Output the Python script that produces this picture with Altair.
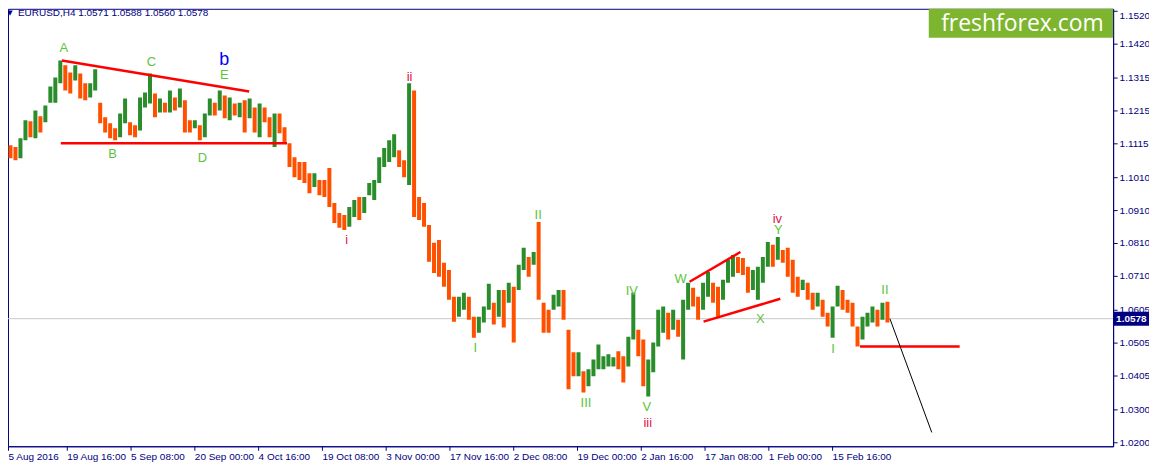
import altair as alt
import pandas as pd

# ---------------- data ----------------
symbol = "EURUSD,H4"
last_ohlc = [1.0571, 1.0588, 1.0560, 1.0578]

first_open = 1.1130
H4_PER_BAR = 5  # each drawn bar aggregates 5 H4 candles

highs = [1.1161,1.1109,1.1103,1.1130,1.1185,1.1182,1.1215,1.1197,1.1230,1.1288,
         1.1316,1.1368,1.1353,1.1331,1.1353,1.1328,1.1298,1.1298,1.1341,1.1239,
         1.1194,1.1176,1.1161,1.1206,1.1252,1.1179,1.1170,1.1255,1.1270,1.1328,
         1.1267,1.1252,1.1239,1.1276,1.1255,1.1282,1.1246,1.1185,1.1185,1.1170,
         1.1206,1.1252,1.1239,1.1276,1.1261,1.1255,1.1236,1.1239,1.1246,1.1252,
         1.1224,1.1236,1.1224,1.1194,1.1206,1.1206,1.1164,1.1115,1.1072,1.1057,
         1.1057,1.1023,1.1023,1.1002,1.1002,1.1039,1.0932,1.0901,1.0895,1.0920,
         1.0941,1.0950,1.0950,1.0993,1.1002,1.1072,1.1100,1.1124,1.1142,1.1093,
         1.1063,1.1298,1.1276,1.0950,1.0932,1.0865,1.0810,1.0819,1.0749,1.0727,
         1.0645,1.0645,1.0657,1.0645,1.0584,1.0584,1.0615,1.0685,1.0627,1.0666,
         1.0666,1.0688,1.0676,1.0743,1.0795,1.0767,1.0782,1.0874,1.0627,1.0605,
         1.0651,1.0666,1.0666,1.0544,1.0475,1.0475,1.0417,1.0423,1.0453,1.0499,
         1.0463,1.0469,1.0460,1.0478,1.0463,1.0523,1.0657,1.0544,1.0514,1.0453,
         1.0505,1.0605,1.0615,1.0596,1.0605,1.0575,1.0636,1.0688,1.0673,1.0645,
         1.0688,1.0721,1.0688,1.0676,1.0697,1.0758,1.0773,1.0767,1.0764,1.0737,
         1.0727,1.0737,1.0767,1.0813,1.0804,1.0828,1.0788,1.0795,1.0758,1.0706,
         1.0697,1.0688,1.0657,1.0657,1.0636,1.0596,1.0615,1.0679,1.0666,1.0636,
         1.0627,1.0554,1.0584,1.0596,1.0615,1.0605,1.0627,1.0630]

lows = [1.1063,1.1069,1.1063,1.1069,1.1124,1.1133,1.1130,1.1148,1.1179,1.1239,
        1.1239,1.1298,1.1276,1.1267,1.1307,1.1252,1.1246,1.1255,1.1276,1.1176,
        1.1148,1.1130,1.1124,1.1133,1.1176,1.1139,1.1133,1.1154,1.1224,1.1236,
        1.1194,1.1209,1.1209,1.1209,1.1215,1.1224,1.1148,1.1148,1.1161,1.1124,
        1.1133,1.1200,1.1200,1.1215,1.1191,1.1185,1.1200,1.1194,1.1148,1.1191,
        1.1148,1.1133,1.1179,1.1133,1.1103,1.1145,1.1115,1.1042,1.1011,1.1002,
        1.0993,1.0962,1.0981,1.0956,1.0950,1.0920,1.0871,1.0856,1.0849,1.0859,
        1.0889,1.0880,1.0901,1.0956,1.0941,1.0993,1.1042,1.1057,1.1072,1.1042,
        1.1011,1.0987,1.0889,1.0880,1.0859,1.0752,1.0718,1.0706,1.0676,1.0636,
        1.0569,1.0584,1.0605,1.0575,1.0520,1.0535,1.0566,1.0605,1.0560,1.0584,
        1.0551,1.0627,1.0505,1.0666,1.0727,1.0706,1.0743,1.0636,1.0535,1.0535,
        1.0605,1.0615,1.0575,1.0362,1.0402,1.0402,1.0352,1.0371,1.0402,1.0423,
        1.0423,1.0432,1.0432,1.0423,1.0383,1.0432,1.0514,1.0463,1.0371,1.0340,
        1.0414,1.0493,1.0535,1.0514,1.0544,1.0523,1.0453,1.0605,1.0615,1.0575,
        1.0605,1.0645,1.0627,1.0584,1.0636,1.0688,1.0706,1.0718,1.0712,1.0657,
        1.0666,1.0636,1.0688,1.0737,1.0737,1.0758,1.0749,1.0706,1.0657,1.0645,
        1.0666,1.0636,1.0605,1.0615,1.0584,1.0554,1.0520,1.0615,1.0605,1.0596,
        1.0554,1.0493,1.0514,1.0554,1.0566,1.0554,1.0575,1.0566]

closes = [1.1093,1.1087,1.1078,1.1118,1.1170,1.1139,1.1191,1.1161,1.1221,1.1270,
          1.1301,1.1344,1.1313,1.1292,1.1331,1.1270,1.1261,1.1282,1.1292,1.1191,
          1.1170,1.1148,1.1145,1.1191,1.1200,1.1161,1.1154,1.1246,1.1252,1.1270,
          1.1230,1.1236,1.1221,1.1246,1.1236,1.1246,1.1170,1.1164,1.1176,1.1161,
          1.1200,1.1230,1.1221,1.1255,1.1215,1.1221,1.1215,1.1230,1.1209,1.1221,
          1.1191,1.1215,1.1200,1.1154,1.1191,1.1170,1.1130,1.1063,1.1039,1.1032,
          1.1008,1.0993,1.1002,1.0978,1.0971,1.0941,1.0895,1.0880,1.0874,1.0904,
          1.0917,1.0910,1.0941,1.0971,1.0987,1.1057,1.1087,1.1093,1.1109,1.1057,
          1.1032,1.1215,1.0926,1.0910,1.0874,1.0773,1.0758,1.0743,1.0712,1.0651,
          1.0605,1.0621,1.0636,1.0621,1.0544,1.0569,1.0590,1.0636,1.0605,1.0642,
          1.0621,1.0666,1.0636,1.0727,1.0764,1.0721,1.0764,1.0666,1.0590,1.0575,
          1.0630,1.0645,1.0599,1.0453,1.0438,1.0453,1.0377,1.0408,1.0438,1.0447,
          1.0447,1.0453,1.0453,1.0438,1.0408,1.0499,1.0544,1.0484,1.0408,1.0429,
          1.0490,1.0575,1.0581,1.0560,1.0575,1.0544,1.0605,1.0651,1.0636,1.0599,
          1.0666,1.0697,1.0651,1.0636,1.0682,1.0743,1.0752,1.0743,1.0734,1.0682,
          1.0697,1.0712,1.0752,1.0795,1.0788,1.0804,1.0767,1.0743,1.0697,1.0682,
          1.0682,1.0660,1.0627,1.0642,1.0605,1.0575,1.0599,1.0660,1.0621,1.0612,
          1.0560,1.0529,1.0569,1.0581,1.0596,1.0581,1.0599,1.0578]

# x axis: H4 candle number since 5 Aug 2016 00:00, one label every 64 candles
time_labels = ["5 Aug 2016", "19 Aug 16:00", "5 Sep 08:00", "20 Sep 00:00",
               "4 Oct 16:00", "19 Oct 08:00", "3 Nov 00:00", "17 Nov 16:00",
               "2 Dec 08:00", "19 Dec 00:00", "2 Jan 16:00", "17 Jan 08:00",
               "1 Feb 00:00", "15 Feb 16:00"]
time_ticks = [0, 64, 128, 192, 256, 320, 384, 448, 512, 576, 640, 704, 768, 832]

price_ticks = [1.1520, 1.1420, 1.1315, 1.1215, 1.1115, 1.1010, 1.0910, 1.0810,
               1.0710, 1.0605, 1.0505, 1.0405, 1.0300, 1.0200]

# wave labels (candle number, price, text, degree)
wave_text = ["A", "B", "C", "D", "E", "b", "i", "ii", "I", "II", "III", "IV",
             "V", "iii", "W", "X", "Y", "iv", "I", "II"]
wave_idx = [61, 110, 149, 200, 222, 222, 345, 408, 474, 537, 585, 631,
            646, 647, 680, 760, 778, 777, 833, 885]
wave_price = [1.1407, 1.1081, 1.1362, 1.1069, 1.1325, 1.1368, 1.0819, 1.1316,
              1.0487, 1.0895, 1.0319, 1.0663, 1.0307, 1.0258, 1.0700, 1.0578,
              1.0849, 1.0883, 1.0484, 1.0666]
wave_degree = ["minor", "minor", "minor", "minor", "minor", "inter", "minute",
               "minute", "minor", "minor", "minor", "minor", "minor", "minute",
               "minor", "minor", "minor", "minute", "minor", "minor"]

# drawn lines (start/end candle number and price)
seg_idx0 = [59, 58, 689, 703, 860, 890]
seg_idx1 = [247, 285, 740, 780, 960, 932]
seg_p0 = [1.1368, 1.1115, 1.0691, 1.0569, 1.0493, 1.0578]
seg_p1 = [1.1273, 1.1115, 1.0782, 1.0639, 1.0493, 1.0230]
seg_kind = ["trend", "trend", "trend", "trend", "trend", "forecast"]

# ---------------- styles ----------------
NAVY = "#000080"
FONT = "Liberation Sans"
DIR_COLOR = {"up": "#2A8C2A", "down": "#FF5000"}
DEG_COLOR = {"minor": "#5CC43C", "minute": "#E0144C", "inter": "#0000FF"}
DEG_SIZE = {"minor": 13, "minute": 13, "inter": 18}
SEG_COLOR = {"trend": "#FF0000", "forecast": "#000000"}
SEG_WIDTH = {"trend": 2.5, "forecast": 1}
X_FIRST, X_LAST = 5, 1114   # candle numbers visible at the left / right edge

# ---------------- frames ----------------
opens = [first_open] + closes[:-1]
bars = pd.DataFrame({
    "idx": [k * H4_PER_BAR + H4_PER_BAR / 2 for k in range(len(closes))],
    "open": opens, "high": highs, "low": lows, "close": closes,
})
bars["col"] = [DIR_COLOR["up"] if c >= o else DIR_COLOR["down"]
               for o, c in zip(opens, closes)]

waves = pd.DataFrame({"idx": wave_idx, "price": wave_price, "text": wave_text})
waves["col"] = [DEG_COLOR[d] for d in wave_degree]
waves["fs"] = [DEG_SIZE[d] for d in wave_degree]

segs = pd.DataFrame({"x0": seg_idx0, "x1": seg_idx1, "p0": seg_p0, "p1": seg_p1})
segs["col"] = [SEG_COLOR[k] for k in seg_kind]
segs["sw"] = [SEG_WIDTH[k] for k in seg_kind]

one = pd.DataFrame({"a": [0]})

label_array = "[" + ",".join("'" + t + "'" for t in time_labels) + "]"
# the first tick sits just left of the visible window; show it at the edge
shown_ticks = [max(t, X_FIRST) for t in time_ticks]

xscale = alt.Scale(domain=[X_FIRST, X_LAST], nice=False, zero=False)
yscale = alt.Scale(domain=[1.01877, 1.15261], nice=False, zero=False)

xaxis = alt.Axis(values=shown_ticks, labelExpr=label_array + "[round(datum.value/64)]",
                 labelAlign="left", labelColor=NAVY, tickColor=NAVY, domainColor=NAVY,
                 tickSize=4, labelPadding=1, labelFont=FONT, labelFontSize=10,
                 grid=False, title=None, labelOverlap=False, labelFlush=False,
                 labelBound=False)
yaxis = alt.Axis(orient="right", values=price_ticks, format=".4f", labelColor=NAVY,
                 tickColor=NAVY, domainColor=NAVY, tickSize=4, labelPadding=2,
                 labelFont=FONT, labelFontSize=10, grid=False, title=None,
                 labelOverlap=False, labelFlush=False, labelBound=False,
                 labelBaseline={"condition": {"test": "datum.value > 1.15", "value": "top"},
                                "value": "middle"})

price_line = alt.Chart(one).mark_rule(color="#C8C8C8", strokeWidth=1).encode(
    x=alt.X(datum=X_FIRST, scale=xscale, axis=xaxis), x2=alt.datum(X_LAST),
    y=alt.Y(datum=last_ohlc[3], scale=yscale, axis=yaxis))

candles = alt.Chart(bars).mark_rule(strokeWidth=4, strokeCap="butt", clip=True).encode(
    x=alt.X("idx:Q", scale=xscale, axis=xaxis),
    y=alt.Y("low:Q", scale=yscale, axis=yaxis),
    y2="high:Q",
    color=alt.Color("col:N", scale=None),
)

lines = alt.Chart(segs).mark_rule(strokeCap="butt").encode(
    x=alt.X("x0:Q", scale=xscale, axis=xaxis), x2="x1:Q",
    y=alt.Y("p0:Q", scale=yscale, axis=yaxis), y2="p1:Q",
    color=alt.Color("col:N", scale=None),
    strokeWidth=alt.StrokeWidth("sw:Q", scale=None),
)

labels = alt.Chart(waves).mark_text(font=FONT, baseline="middle", align="center").encode(
    x=alt.X("idx:Q", scale=xscale, axis=xaxis),
    y=alt.Y("price:Q", scale=yscale, axis=yaxis),
    text="text:N",
    color=alt.Color("col:N", scale=None),
    size=alt.Size("fs:Q", scale=None),
)

header_tri = alt.Chart(one).mark_text(text="\u25BC", font="DejaVu Sans", fontSize=7,
                                      color=NAVY, align="center", baseline="middle").encode(
    x=alt.value(2), y=alt.value(4))
header = alt.Chart(one).mark_text(
    text=symbol + "  " + " ".join(f"{v:.4f}" for v in last_ohlc),
    font=FONT, fontSize=10, color=NAVY, align="left", baseline="middle").encode(
    x=alt.value(10), y=alt.value(4))

logo_box = alt.Chart(one).mark_rect(color="#7DB52F").encode(
    x=alt.value(924), x2=alt.value(1109), y=alt.value(0), y2=alt.value(29))
logo_text = alt.Chart(one).mark_text(text="freshforex.com", font="Open Sans", fontSize=23,
                                     color="white", align="center", baseline="middle").encode(
    x=alt.value(1018), y=alt.value(15))

price_box = alt.Chart(one).mark_rule(color=NAVY, strokeWidth=14, strokeCap="butt").encode(
    x=alt.value(1109), x2=alt.value(1147),
    y=alt.Y(datum=last_ohlc[3], scale=yscale, axis=yaxis))
price_text = alt.Chart(one).mark_text(text=f"{last_ohlc[3]:.4f}", font=FONT, fontSize=10,
                                      fontWeight="bold", color="white", align="left",
                                      baseline="middle").encode(
    x=alt.value(1112), y=alt.Y(datum=last_ohlc[3], scale=yscale, axis=yaxis))

chart = alt.layer(
    price_line, candles, lines, labels, header_tri, header,
    logo_box, logo_text, price_box, price_text
).properties(
    width=1109, height=439,
    autosize=alt.AutoSizeParams(type="none"),
    padding={"left": 0, "top": 0, "right": 36, "bottom": 16},
    background="white",
).configure_view(stroke=NAVY, strokeWidth=1).configure_axis(labelOverlap=False)

chart.save("out.html", embed_options={"renderer": "svg", "actions": False})
